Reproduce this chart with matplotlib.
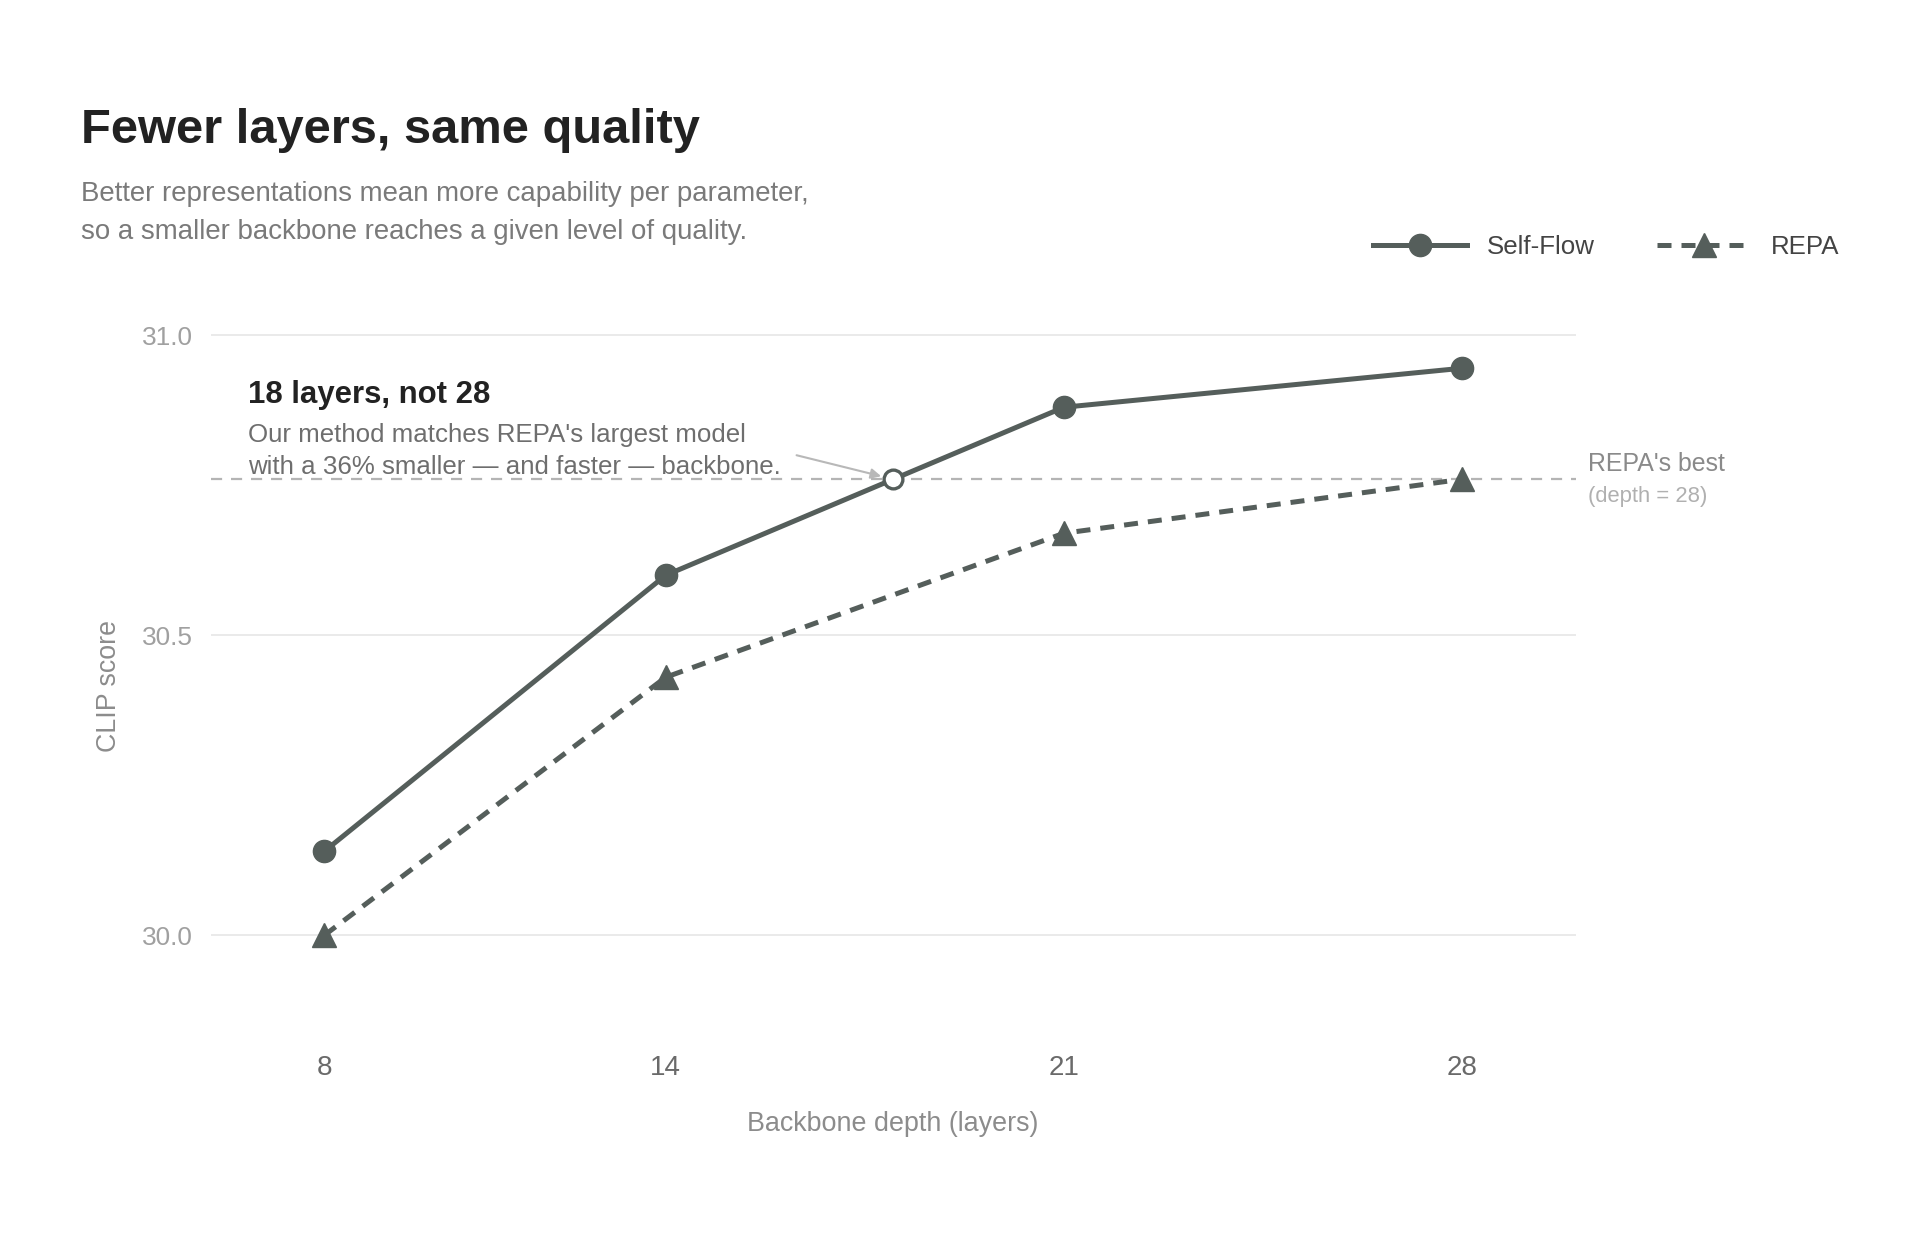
import matplotlib
matplotlib.use("Agg")
import matplotlib.pyplot as plt

plt.rcParams['font.family'] = ['Liberation Sans', 'DejaVu Sans']

depth = [8, 14, 21, 28]
self_flow = [30.14, 30.60, 30.88, 30.945]
repa = [30.00, 30.43, 30.67, 30.76]
match_depth = 18
repa_best = 30.76

W, H = 1920, 1237
LINE = '#555e5b'


def px(x, y):
    # pixel position (from top-left) -> figure fraction
    return x / W, 1 - y / H


fig = plt.figure(figsize=(19.2, 12.37), dpi=100)
ax = fig.add_axes([0.1097, 0.1542, 0.8208 - 0.1097, 0.7775 - 0.1542])

ax.axhline(repa_best, color='#b4b4b4', lw=1.6, dashes=(5, 4), zorder=1)
ax.plot(depth, self_flow, color=LINE, lw=3.6, marker='o', ms=16, label='Self-Flow', zorder=3)
ax.plot(depth, repa, color=LINE, lw=3.6, marker='^', ms=17, dashes=(2.8, 2.0), label='REPA', zorder=3)
ax.plot([match_depth], [repa_best], marker='o', ms=13.5, mfc='white', mec=LINE, mew=2.4, zorder=4)

ax.annotate('', xy=(match_depth, repa_best), xytext=(16.3, 30.80),
            arrowprops=dict(arrowstyle='-|>', color='#b8b8b8', lw=1.5, shrinkA=0, shrinkB=9,
                            mutation_scale=15))

ax.set_xlim(6, 30)
ax.set_ylim(29.815, 31.1)
ax.set_xticks(depth)
ax.set_yticks([30.0, 30.5, 31.0])
ax.set_yticklabels(['30.0', '30.5', '31.0'])
ax.grid(axis='y', color='#e6e6e6', lw=1.2)
ax.set_axisbelow(True)
for s in ax.spines.values():
    s.set_visible(False)
ax.tick_params(axis='both', length=0)
ax.tick_params(axis='y', labelsize=18.9, labelcolor='#a0a0a0', pad=13)
ax.tick_params(axis='x', labelsize=20, labelcolor='#6a6a6a', pad=6)

fig.text(*px(109, 686), 'CLIP score', rotation=90, ha='center', va='center',
         fontsize=19.3, color='#8c8c8c')
fig.text(*px(893, 1124), 'Backbone depth (layers)', ha='center', va='center',
         fontsize=19.4, color='#8c8c8c')

fig.text(*px(81, 143), 'Fewer layers, same quality', fontsize=35.2, fontweight='bold',
         color='#222222', va='baseline')
fig.text(*px(81, 201), 'Better representations mean more capability per parameter,',
         fontsize=19.9, color='#7a7a7a', va='baseline')
fig.text(*px(81, 239), 'so a smaller backbone reaches a given level of quality.',
         fontsize=19.9, color='#7a7a7a', va='baseline')

fig.text(*px(248, 403), '18 layers, not 28', fontsize=22.4, fontweight='bold',
         color='#222222', va='baseline')
fig.text(*px(248, 442), "Our method matches REPA's largest model",
         fontsize=18.6, color='#6e6e6e', va='baseline')
fig.text(*px(248, 474), 'with a 36% smaller \u2014 and faster \u2014 backbone.',
         fontsize=18.6, color='#6e6e6e', va='baseline')

fig.text(*px(1588, 471), "REPA's best", fontsize=17.9, color='#8a8a8a', va='baseline')
fig.text(*px(1588, 502), '(depth = 28)', fontsize=15.8, color='#b0b0b0', va='baseline')

leg = ax.legend(loc='center right', bbox_to_anchor=px(1839, 247), bbox_transform=fig.transFigure,
                ncol=2, frameon=False, fontsize=18.6, handlelength=3.66, handletextpad=0.75,
                columnspacing=2.4, borderpad=0, borderaxespad=0)
for t in leg.get_texts():
    t.set_color('#444444')

fig.savefig('out.png', dpi=100, facecolor='white')
